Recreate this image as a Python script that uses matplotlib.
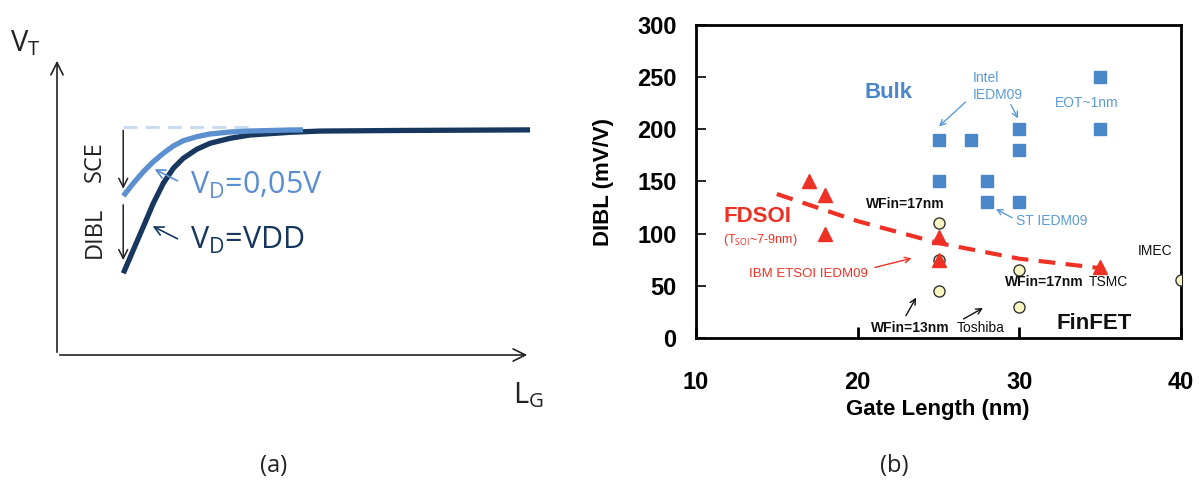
import numpy as np
import matplotlib
matplotlib.use("Agg")
import matplotlib.pyplot as plt

plt.rcParams['font.family'] = ['Open Sans', 'DejaVu Sans']
plt.rcParams['mathtext.fontset'] = 'custom'
plt.rcParams['mathtext.rm'] = 'Open Sans'
plt.rcParams['mathtext.it'] = 'Open Sans'

# ---- panel (a): schematic VT vs LG curves
lg_low = [1.402, 1.613, 1.825, 2.036, 2.247, 2.459, 2.670, 2.953, 3.235, 3.658, 4.080, 4.926, 5.2]
vt_low = [5.354, 5.781, 6.172, 6.508, 6.791, 7.037, 7.215, 7.350, 7.441, 7.508, 7.542, 7.576, 7.58]
lg_vdd = [1.402, 1.613, 1.825, 2.036, 2.247, 2.459, 2.670, 2.953, 3.235, 3.658, 4.080, 4.926,
          5.56, 7.25, 10.0]
vt_vdd = [2.750, 3.535, 4.320, 5.108, 5.781, 6.286, 6.623, 6.926, 7.128, 7.296, 7.407, 7.498,
          7.54, 7.56, 7.58]
lg_ref = [1.40, 4.2]
vt_ref = [7.66, 7.66]

# ---- panel (b): DIBL vs gate length
bulk_x = [25, 27, 30, 30, 25, 28, 28, 30, 35, 35]
bulk_y = [190, 190, 200, 180, 150, 150, 130, 130, 250, 200]
fdsoi_x = [17, 18, 18, 25, 25, 35]
fdsoi_y = [150, 137, 100, 97, 75, 68]
finfet_x = [25, 25, 25, 30, 30, 40]
finfet_y = [110, 75, 45, 65, 30, 56]
trend_x = [15, 20, 25, 30, 35]
trend_y = [138, 112, 91, 76, 67]

light = '#5b8fd0'
dark = '#17375e'
blue_txt = '#5b9bd5'
red = '#ee3124'

W, H = 1204, 483
fig = plt.figure(figsize=(W / 100, H / 100), dpi=100)

def px(x, y):
    return x / W, 1 - y / H

# ---------------- panel (a)
axa = fig.add_axes([57 / W, 1 - 355 / H, (530 - 57) / W, (355 - 58) / H])
axa.set_xlim(0, 10)
axa.set_ylim(0, 10)
axa.axis('off')

axa.annotate('', xy=(10, 0), xytext=(0, 0),
             arrowprops=dict(arrowstyle='->', lw=1.2, color='#222222', mutation_scale=22))
axa.annotate('', xy=(0, 10), xytext=(0, 0),
             arrowprops=dict(arrowstyle='->', lw=1.2, color='#222222', mutation_scale=22))

axa.plot(lg_ref, vt_ref, color='#c6d9f1', lw=2, ls=(0, (5, 3)))
axa.plot(lg_vdd, vt_vdd, color=dark, lw=3.8, solid_capstyle='butt', solid_joinstyle='round')
axa.plot(lg_low, vt_low, color=light, lw=3.8, solid_capstyle='butt', solid_joinstyle='round')

# SCE / DIBL arrows
axa.annotate('', xy=(1.40, 5.50), xytext=(1.40, 7.66),
             arrowprops=dict(arrowstyle='->', lw=1.1, color='#222222', mutation_scale=16))
axa.annotate('', xy=(1.40, 3.10), xytext=(1.40, 5.15),
             arrowprops=dict(arrowstyle='->', lw=1.1, color='#222222', mutation_scale=16))
axa.text(0.80, 6.5, 'SCE', rotation=90, ha='center', va='center', fontsize=17, color='#222222')
axa.text(0.80, 4.14, 'DIBL', rotation=90, ha='center', va='center', fontsize=17, color='#222222')

axa.annotate('', xy=(2.01, 6.30), xytext=(2.60, 5.82),
             arrowprops=dict(arrowstyle='->', lw=1.2, color=light, mutation_scale=16))
axa.annotate('', xy=(1.97, 4.38), xytext=(2.60, 3.87),
             arrowprops=dict(arrowstyle='->', lw=1.2, color=dark, mutation_scale=16))
axa.text(2.81, 5.72, r'V$_\mathrm{D}$=0,05V', ha='left', va='center', fontsize=22, color=light)
axa.text(2.81, 3.87, r'V$_\mathrm{D}$=VDD', ha='left', va='center', fontsize=22, color=dark)

fig.text(*px(10, 43), r'V$_\mathrm{T}$', ha='left', va='center', fontsize=21, color='#222222')
fig.text(*px(513, 395), r'L$_\mathrm{G}$', ha='left', va='center', fontsize=21, color='#222222')
fig.text(*px(274, 466), '(a)', ha='center', va='center', fontsize=17, color='#222222')
fig.text(*px(894, 466), '(b)', ha='center', va='center', fontsize=17, color='#222222')

# ---------------- panel (b)
axb = fig.add_axes([696 / W, 1 - 338 / H, (1181 - 696) / W, (338 - 25) / H])
axb.set_xlim(10, 40)
axb.set_ylim(0, 300)

axb.plot(trend_x, trend_y, color=red, lw=3, ls=(0, (4, 2.5)), zorder=2)
axb.plot(finfet_x, finfet_y, 'o', ms=8, mfc='#fbf5c3', mec='#333333', mew=1, zorder=3)
axb.plot(bulk_x, bulk_y, 's', ms=9, color='#4a87c9', zorder=3)
axb.plot(fdsoi_x, fdsoi_y, '^', ms=10, color=red, zorder=4)

for s in axb.spines.values():
    s.set_linewidth(2)
axb.set_xticks([10, 20, 30, 40])
axb.set_yticks(range(0, 301, 50))
axb.tick_params(axis='x', direction='in', length=8, width=2, pad=24, labelsize=17)
axb.tick_params(axis='y', direction='in', length=7, width=1.2, pad=14, labelsize=17)
for lab in axb.get_xticklabels() + axb.get_yticklabels():
    lab.set_fontfamily('Liberation Sans')
    lab.set_fontweight('bold')

fig.text(*px(938, 410), 'Gate Length (nm)', ha='center', va='center', fontsize=16,
         fontweight='bold', family='Liberation Sans')
fig.text(*px(604, 182), 'DIBL (mV/V)', ha='center', va='center', rotation=90, fontsize=16,
         fontweight='bold', family='Liberation Sans')

tb = dict(family='Liberation Sans')
axb.text(20.4, 235, 'Bulk', color='#4a87c9', fontsize=16, fontweight='bold', va='center', **tb)
axb.text(27.1, 241, 'Intel\nIEDM09', color=blue_txt, fontsize=10, va='center', linespacing=1.3, **tb)
axb.text(32.2, 225, 'EOT~1nm', color=blue_txt, fontsize=10, va='center', **tb)
axb.text(29.8, 112, 'ST IEDM09', color=blue_txt, fontsize=10, va='center', **tb)
axb.annotate('', xy=(24.9, 201), xytext=(26.8, 228),
             arrowprops=dict(arrowstyle='->', lw=1, color=blue_txt))
axb.annotate('', xy=(30.0, 208), xytext=(29.4, 226),
             arrowprops=dict(arrowstyle='->', lw=1, color=blue_txt))
axb.annotate('', xy=(28.4, 125), xytext=(29.7, 114),
             arrowprops=dict(arrowstyle='->', lw=1, color=blue_txt))

axb.text(11.7, 116, 'FDSOI', color=red, fontsize=16, fontweight='bold', va='center', **tb)
axb.text(11.7, 94, r'(T$_\mathrm{SOI}$~7-9nm)', color=red, fontsize=9, va='center', **tb)
axb.text(13.3, 61, 'IBM ETSOI IEDM09', color=red, fontsize=9.5, va='center', **tb)
axb.annotate('', xy=(23.5, 77), xytext=(20.9, 67),
             arrowprops=dict(arrowstyle='->', lw=1, color=red))

axb.text(20.5, 128.5, 'WFin=17nm', color='#111111', fontsize=10, fontweight='bold', va='center', **tb)
axb.text(29.1, 54, 'WFin=17nm', color='#111111', fontsize=10, fontweight='bold', va='center', **tb)
axb.text(34.3, 54, 'TSMC', color='#111111', fontsize=10, va='center', **tb)
axb.text(37.3, 83, 'IMEC', color='#111111', fontsize=10, va='center', **tb)
axb.text(20.8, 10, 'WFin=13nm', color='#111111', fontsize=10, fontweight='bold', va='center', **tb)
axb.text(26.1, 10, 'Toshiba', color='#111111', fontsize=10, va='center', **tb)
axb.annotate('', xy=(23.7, 41), xytext=(22.9, 19),
             arrowprops=dict(arrowstyle='->', lw=1, color='#111111'))
axb.annotate('', xy=(27.9, 30), xytext=(26.4, 17),
             arrowprops=dict(arrowstyle='->', lw=1, color='#111111'))
axb.text(32.3, 14, 'FinFET', color='#111111', fontsize=16, fontweight='bold', va='center', **tb)

fig.savefig('out.png', dpi=100)
